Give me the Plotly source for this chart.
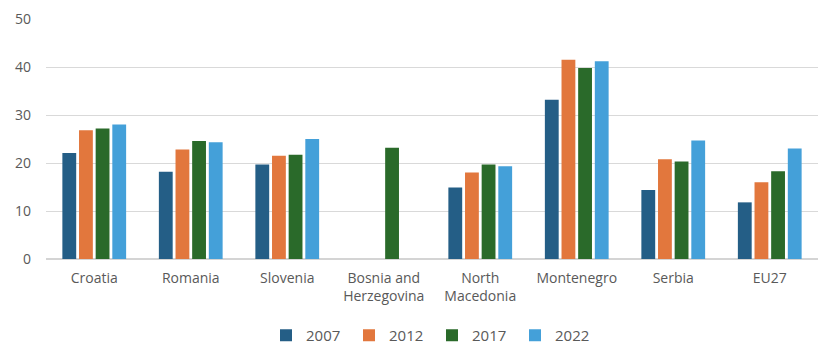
import plotly.graph_objects as go

categories = ["Croatia", "Romania", "Slovenia", "Bosnia and<br>Herzegovina",
              "North<br>Macedonia", "Montenegro", "Serbia", "EU27"]
years = ["2007", "2012", "2017", "2022"]

v2007 = [22.1, 18.2, 19.7, None, 14.9, 33.2, 14.4, 11.8]
v2012 = [26.8, 22.8, 21.5, None, 18.0, 41.5, 20.8, 16.0]
v2017 = [27.2, 24.6, 21.7, 23.2, 19.7, 39.8, 20.3, 18.3]
v2022 = [28.0, 24.3, 25.0, None, 19.3, 41.2, 24.7, 23.0]

series = [v2007, v2012, v2017, v2022]
colors = ["#245E86", "#E2773D", "#2A6A2A", "#44A0D9"]

fig = go.Figure()
for name, vals, col in zip(years, series, colors):
    fig.add_trace(go.Bar(x=categories, y=vals, name=name, marker_color=col,
                         marker_line_width=0))

font_family = "Open Sans, Noto Sans, sans-serif"
fig.update_layout(
    width=821, height=345,
    margin=dict(l=46, r=3, t=19, b=86, autoexpand=False),
    paper_bgcolor="white", plot_bgcolor="white",
    barmode="group", bargap=0.31, bargroupgap=0.17,
    font=dict(family=font_family, size=14, color="#595959"),
    legend=dict(orientation="h", x=0.5, xanchor="center", y=-0.25, yanchor="top",
                font=dict(size=15, color="#595959"), itemwidth=30,
                entrywidth=38, entrywidthmode="pixels",
                traceorder="normal"),
    showlegend=True,
)
fig.update_yaxes(range=[0, 50], dtick=10, showgrid=True, gridcolor="#D9D9D9",
                 gridwidth=1, zeroline=True, zerolinecolor="#D4D4D4",
                 tickfont=dict(size=14, color="#595959"), ticklabelstandoff=14,
                 showline=False, fixedrange=True, automargin=False)
fig.update_xaxes(showline=False, tickfont=dict(size=14, color="#595959"),
                 ticks="", ticklabelstandoff=9, fixedrange=True, automargin=False)

fig.write_html("out.html")
